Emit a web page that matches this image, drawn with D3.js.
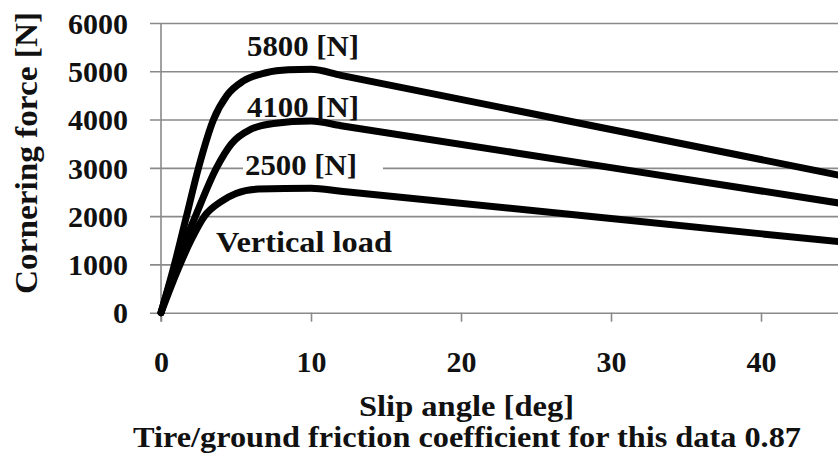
<!DOCTYPE html>
<html>
<head>
<meta charset="utf-8">
<script src="https://cdn.jsdelivr.net/npm/d3@7"></script>
<style>
  html, body { margin: 0; padding: 0; background: #fff; overflow: hidden; }
</style>
</head>
<body>
<div id="chart"></div>
<script>
// slip angle [deg] / cornering force [N]
var slip_5800 = [0, 0.9, 1.7, 2.5, 3.5, 4.4, 5.5, 7, 8.5, 10, 12, 30, 50];
var force_5800 = [0, 1000, 2000, 3000, 4000, 4500, 4800, 4970, 5030, 5040, 4915, 3795, 2550];

var slip_4100 = [0, 1, 2.3, 3.7, 4.7, 6, 7.5, 10, 12, 30, 50];
var force_4100 = [0, 1000, 2000, 3000, 3500, 3800, 3920, 3970, 3873, 3005, 2040];

var slip_2500 = [0, 1, 2, 2.9, 4, 5, 6.5, 10, 12, 30, 50];
var force_2500 = [0, 800, 1500, 2000, 2300, 2470, 2560, 2580, 2517, 1950, 1320];

var y_ticks = [0, 1000, 2000, 3000, 4000, 5000, 6000];
var x_ticks = [0, 10, 20, 30, 40];

var load_labels = ["5800 [N]", "4100 [N]", "2500 [N]"];

var total_width = 838;
var total_height = 455;
var serif_style = "font-family:'Liberation Serif','Times New Roman',serif;font-weight:bold";

var svg_root = d3.select("#chart").append("svg")
    .attr("width", total_width)
    .attr("height", total_height);

// x goes past the right edge, the picture is cut there
var x = d3.scaleLinear().domain([0, 50]).range([161, 911]);
var y = d3.scaleLinear().domain([0, 6000]).range([312.7, 23]);

var grid_left = 150;

// y axis: gridlines + labels
var y_axis = d3.axisLeft(y)
    .tickValues(y_ticks)
    .tickFormat(d3.format("d"))
    .tickSizeInner(-(total_width - grid_left))
    .tickSizeOuter(0)
    .tickPadding(22);

var y_group = svg_root.append("g")
    .attr("transform", "translate(" + grid_left + ",0)")
    .call(y_axis);
y_group.select(".domain").remove();
y_group.selectAll(".tick line")
    .attr("stroke", "#8a8a8a")
    .attr("stroke-width", 1.6);
y_group.selectAll(".tick text")
    .attr("style", serif_style)
    .attr("font-size", 30)
    .attr("dy", "0.34em")
    .attr("fill", "#111");

// vertical axis line at slip 0
svg_root.append("line")
    .attr("x1", x(0)).attr("x2", x(0))
    .attr("y1", y(6000)).attr("y2", y(0) + 9)
    .attr("stroke", "#8a8a8a")
    .attr("stroke-width", 1.6);

// x axis: ticks + labels
var x_axis = d3.axisBottom(x)
    .tickValues(x_ticks)
    .tickFormat(d3.format("d"))
    .tickSizeInner(9)
    .tickSizeOuter(0)
    .tickPadding(0);

var x_group = svg_root.append("g")
    .attr("transform", "translate(0," + y(0) + ")")
    .call(x_axis);
x_group.select(".domain").remove();
x_group.selectAll(".tick line")
    .attr("stroke", "#8a8a8a")
    .attr("stroke-width", 1.6);
x_group.selectAll(".tick text")
    .attr("style", serif_style)
    .attr("font-size", 30)
    .attr("y", 59)
    .attr("dy", null)
    .attr("fill", "#111");

// white box behind the 2500 label hides the gridline there
svg_root.append("rect")
    .attr("x", 243)
    .attr("y", 150)
    .attr("width", 140)
    .attr("height", 30)
    .attr("fill", "#fff");

var line_gen = d3.line()
    .x(function(d) { return x(d[0]); })
    .y(function(d) { return y(d[1]); })
    .curve(d3.curveMonotoneX);

var series = [
    d3.zip(slip_5800, force_5800),
    d3.zip(slip_4100, force_4100),
    d3.zip(slip_2500, force_2500)
];

svg_root.selectAll("path.curve")
    .data(series)
    .enter().append("path")
    .attr("class", "curve")
    .attr("d", line_gen)
    .attr("fill", "none")
    .attr("stroke", "#000")
    .attr("stroke-width", 7)
    .attr("stroke-linejoin", "round")
    .attr("stroke-linecap", "round");

// load labels
var label_pos = [[247, 56], [247, 117], [245, 175]];
svg_root.selectAll("text.load")
    .data(load_labels)
    .enter().append("text")
    .attr("class", "load")
    .attr("style", serif_style)
    .attr("x", function(d, i) { return label_pos[i][0]; })
    .attr("y", function(d, i) { return label_pos[i][1]; })
    .attr("font-size", 30)
    .attr("fill", "#111")
    .attr("textLength", 112)
    .attr("lengthAdjust", "spacingAndGlyphs")
    .text(function(d) { return d; });

svg_root.append("text")
    .attr("style", serif_style)
    .attr("x", 216)
    .attr("y", 252)
    .attr("font-size", 30)
    .attr("fill", "#111")
    .attr("textLength", 176)
    .attr("lengthAdjust", "spacingAndGlyphs")
    .text("Vertical load");

// axis titles
svg_root.append("text")
    .attr("style", serif_style)
    .attr("transform", "translate(37,153) rotate(-90)")
    .attr("text-anchor", "middle")
    .attr("font-size", 31)
    .attr("fill", "#111")
    .attr("textLength", 282)
    .attr("lengthAdjust", "spacingAndGlyphs")
    .text("Cornering force [N]");

svg_root.append("text")
    .attr("style", serif_style)
    .attr("x", 359)
    .attr("y", 416)
    .attr("font-size", 30)
    .attr("fill", "#111")
    .attr("textLength", 215)
    .attr("lengthAdjust", "spacingAndGlyphs")
    .text("Slip angle [deg]");

svg_root.append("text")
    .attr("style", serif_style)
    .attr("x", 133)
    .attr("y", 447)
    .attr("font-size", 30)
    .attr("fill", "#111")
    .attr("textLength", 668)
    .attr("lengthAdjust", "spacingAndGlyphs")
    .text("Tire/ground friction coefficient for this data 0.87");
</script>
</body>
</html>
